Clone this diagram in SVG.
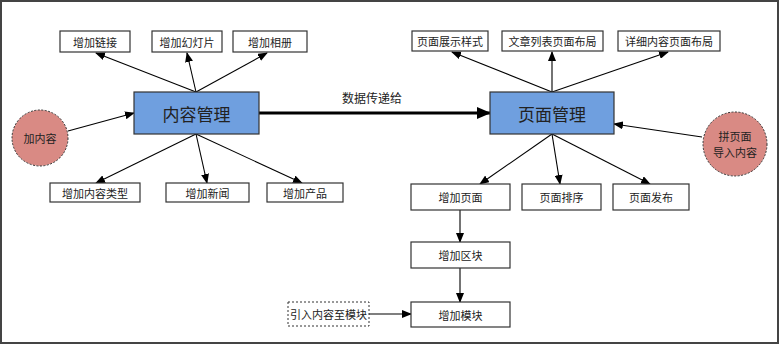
<svg xmlns="http://www.w3.org/2000/svg" width="780" height="345" viewBox="0 0 780 345">
<defs>
<marker id="ah" markerWidth="10" markerHeight="8" refX="9" refY="4" orient="auto" markerUnits="userSpaceOnUse"><path d="M0,0 L10,4 L0,8 Z" fill="#000"/></marker>
<marker id="ahb" markerWidth="14" markerHeight="12" refX="13" refY="6" orient="auto" markerUnits="userSpaceOnUse"><path d="M0,0 L14,6 L0,12 Z" fill="#000"/></marker>
<style>
text{font-family:"Microsoft YaHei","Noto Sans CJK SC",sans-serif;fill:#222;text-anchor:middle;dominant-baseline:central}
.box{fill:#fff;stroke:#333;stroke-width:1.2}
.dbox{fill:#fff;stroke:#333;stroke-width:1;stroke-dasharray:2,2}
.main{fill:#6f9fdf;stroke:#333;stroke-width:1.2}
.circ{fill:#d98a84;stroke:#333;stroke-width:1;stroke-dasharray:2,1.5}
.t{font-size:11px}
.tl{font-size:12px}
.tm{font-size:17px}
.c line{stroke:#000;stroke-width:1.1;marker-end:url(#ah)}
</style>
</defs>
<rect x="1" y="1" width="777" height="342" fill="#fff" stroke="#444" stroke-width="2"/>

<g class="c" id="connectors">
<line x1="196" y1="92" x2="96" y2="53"/>
<line x1="196" y1="92" x2="187" y2="53"/>
<line x1="196" y1="92" x2="267" y2="53"/>
<line x1="196" y1="134" x2="96" y2="183"/>
<line x1="196" y1="134" x2="207" y2="183"/>
<line x1="196" y1="134" x2="302" y2="183"/>
<line x1="68" y1="131" x2="134" y2="113"/>
<line x1="258" y1="113" x2="490" y2="113" style="stroke-width:3;marker-end:url(#ahb)"/>
<line x1="552" y1="92" x2="452" y2="52"/>
<line x1="552" y1="92" x2="552" y2="52"/>
<line x1="552" y1="92" x2="668" y2="52"/>
<line x1="552" y1="134" x2="480" y2="184"/>
<line x1="552" y1="134" x2="560" y2="184"/>
<line x1="552" y1="134" x2="650" y2="184"/>
<line x1="702" y1="137" x2="614" y2="124"/>
<line x1="460" y1="210" x2="460" y2="242"/>
<line x1="460" y1="268" x2="460" y2="302"/>
<line x1="369" y1="314" x2="411" y2="314"/>
</g>
<text class="tl" x="372" y="97">数据传递给</text>

<g id="n_content"><rect class="main" x="134" y="92" width="125" height="42"/><text class="tm" x="196.5" y="113">内容管理</text></g>
<g id="n_page"><rect class="main" x="490" y="92" width="124" height="42"/><text class="tm" x="552" y="113">页面管理</text></g>

<g id="n_link"><rect class="box" x="60" y="31" width="70" height="21"/><text class="t" x="95" y="41.5">增加链接</text></g>
<g id="n_slide"><rect class="box" x="152" y="31" width="70" height="21"/><text class="t" x="187" y="41.5">增加幻灯片</text></g>
<g id="n_album"><rect class="box" x="233" y="31" width="74" height="21"/><text class="t" x="270" y="41.5">增加相册</text></g>

<g id="n_type"><rect class="box" x="50" y="183" width="90" height="19"/><text class="t" x="95" y="192.5">增加内容类型</text></g>
<g id="n_news"><rect class="box" x="166" y="183" width="83" height="19"/><text class="t" x="207.5" y="192.5">增加新闻</text></g>
<g id="n_product"><rect class="box" x="267" y="183" width="76" height="19"/><text class="t" x="305" y="192.5">增加产品</text></g>

<g id="n_add_content"><circle class="circ" cx="40" cy="138" r="28"/><text class="t" x="40" y="138">加内容</text></g>
<g id="n_import"><circle class="circ" cx="735" cy="144" r="32"/><text class="t" x="735" y="135.5">拼页面</text><text class="t" x="735" y="152">导入内容</text></g>

<g id="n_style"><rect class="box" x="412" y="31" width="76" height="20"/><text class="t" x="450" y="41">页面展示样式</text></g>
<g id="n_list"><rect class="box" x="502" y="31" width="101" height="20"/><text class="t" x="552.5" y="41">文章列表页面布局</text></g>
<g id="n_detail"><rect class="box" x="618" y="31" width="102" height="20"/><text class="t" x="669" y="41">详细内容页面布局</text></g>

<g id="n_addpage"><rect class="box" x="411" y="184" width="99" height="26"/><text class="t" x="460.5" y="197">增加页面</text></g>
<g id="n_sort"><rect class="box" x="522" y="184" width="79" height="26"/><text class="t" x="561.5" y="197">页面排序</text></g>
<g id="n_publish"><rect class="box" x="613" y="184" width="76" height="26"/><text class="t" x="651" y="197">页面发布</text></g>
<g id="n_block"><rect class="box" x="411" y="242" width="99" height="26"/><text class="t" x="460.5" y="255">增加区块</text></g>
<g id="n_module"><rect class="box" x="411" y="302" width="99" height="25"/><text class="t" x="460.5" y="314.5">增加模块</text></g>
<g id="n_intro"><rect class="dbox" x="288" y="302" width="81" height="24"/><text class="t" x="328.5" y="314">引入内容至模块</text></g>
</svg>
